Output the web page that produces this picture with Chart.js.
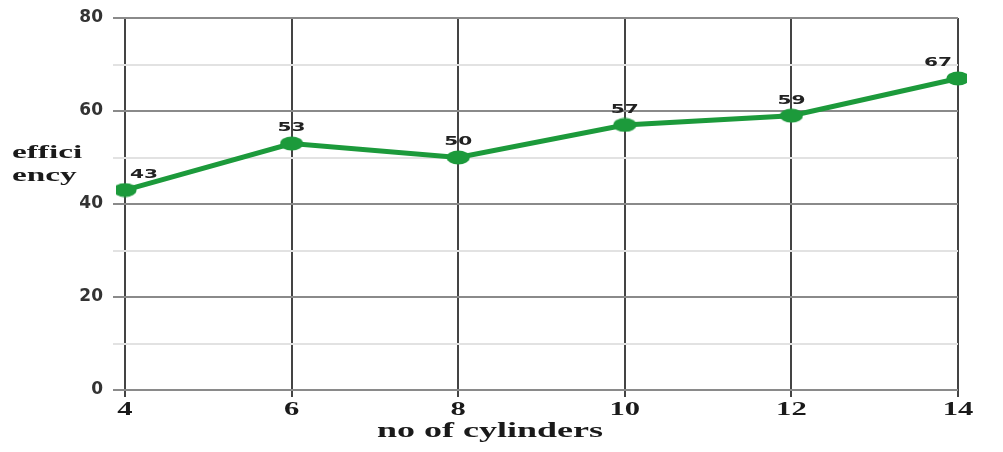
<!DOCTYPE html>
<html>
<head>
<meta charset="utf-8">
<script src="https://cdn.jsdelivr.net/npm/chart.js@4"></script>
<style>
  body { margin: 0; background: #fff; }
  #wrap { width: 1003px; height: 452px; }
</style>
</head>
<body>
<div id="wrap"><canvas id="chart" width="1003" height="452"></canvas></div>
<script>
const cylinders = ["4", "6", "8", "10", "12", "14"];
const efficiency = [43, 53, 50, 57, 59, 67];
const yTicks = [0, 20, 40, 60, 80];

const green = "#1c9a3b";

// markers are a bit flattened in the source, so use an ellipse image
const marker = document.createElement("canvas");
marker.width = 24;
marker.height = 15;
const mctx = marker.getContext("2d");
mctx.fillStyle = green;
mctx.beginPath();
mctx.ellipse(12, 7.5, 11.5, 7, 0, 0, Math.PI * 2);
mctx.fill();

// the source picture is stretched sideways, so text is drawn wider
function wideText(ctx, txt, x, y, sx, align) {
  ctx.save();
  ctx.translate(x, y);
  ctx.scale(sx, 1);
  ctx.textAlign = align;
  ctx.fillText(txt, 0, 0);
  ctx.restore();
}

// numbers above each point
const pointLabels = {
  id: "pointLabels",
  afterDatasetsDraw(chart) {
    const ctx = chart.ctx;
    const area = chart.chartArea;
    const meta = chart.getDatasetMeta(0);
    ctx.save();
    ctx.font = "bold 13px 'DejaVu Sans', sans-serif";
    ctx.fillStyle = "#222";
    ctx.textBaseline = "bottom";
    meta.data.forEach((pt, i) => {
      const txt = String(efficiency[i]);
      const w = ctx.measureText(txt).width * 1.55;
      let x = pt.x;
      if (x - w / 2 < area.left + 5) x = area.left + w / 2 + 5;
      if (x + w / 2 > area.right - 6) x = area.right - w / 2 - 6;
      wideText(ctx, txt, x, pt.y - 9, 1.55, "center");
    });
    ctx.restore();
  }
};

// category labels and axis titles
const titles = {
  id: "titles",
  afterDraw(chart) {
    const ctx = chart.ctx;
    const xs = chart.scales.x;
    ctx.save();
    ctx.fillStyle = "#1a1a1a";
    ctx.textBaseline = "middle";
    ctx.font = "bold 18px 'Liberation Serif', serif";
    cylinders.forEach((c, i) => {
      wideText(ctx, c, xs.getPixelForValue(i), 410, 1.7, "center");
    });
    ctx.font = "bold 19px 'Liberation Serif', serif";
    wideText(ctx, "effici", 12, 153, 1.75, "left");
    wideText(ctx, "ency", 12, 176, 1.75, "left");
    ctx.font = "bold 20px 'Liberation Serif', serif";
    wideText(ctx, "no of cylinders", 490, 432, 1.8, "center");
    ctx.restore();
  }
};

new Chart(document.getElementById("chart"), {
  type: "line",
  data: {
    labels: cylinders,
    datasets: [{
      data: efficiency,
      borderColor: green,
      backgroundColor: green,
      borderWidth: 5,
      pointStyle: marker,
      tension: 0
    }]
  },
  options: {
    responsive: false,
    animation: false,
    layout: { padding: { top: 18, right: 45, left: 0, bottom: 0 } },
    plugins: { legend: { display: false }, tooltip: { enabled: false } },
    scales: {
      x: {
        offset: false,
        grid: { color: "#444", lineWidth: 2, tickLength: 7 },
        border: { display: false },
        ticks: { display: false },
        afterFit(scale) { scale.height = 62; }
      },
      y: {
        min: 0,
        max: 80,
        grid: {
          tickLength: 12,
          lineWidth: 2,
          color: (c) => (yTicks.includes(c.tick.value) ? "#8a8a8a" : "#e2e2e2")
        },
        border: { display: false },
        ticks: {
          stepSize: 10,
          padding: 10,
          color: "#333",
          font: { family: "'DejaVu Sans', sans-serif", size: 17, weight: "bold" },
          callback: (v) => (yTicks.includes(v) ? String(v) : "")
        },
        afterFit(scale) {
          scale.width = 125;
          scale.paddingTop = 0;
          scale.paddingBottom = 0;
        }
      }
    }
  },
  plugins: [pointLabels, titles]
});
</script>
</body>
</html>
